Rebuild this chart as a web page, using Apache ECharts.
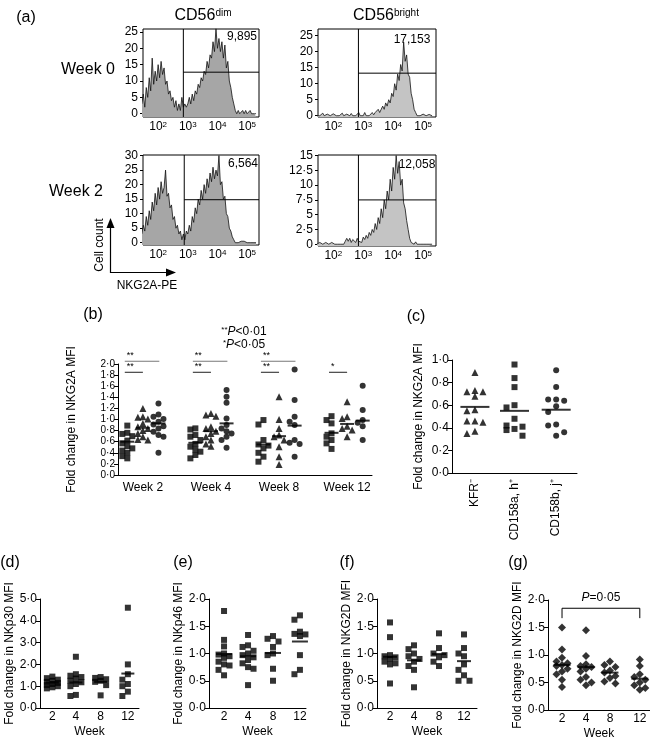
<!DOCTYPE html>
<html><head><meta charset="utf-8">
<script src="https://cdn.jsdelivr.net/npm/echarts@6/dist/echarts.min.js"></script>
<style>html,body{margin:0;padding:0;background:#fff}#c{width:650px;height:742px}</style>
</head><body><div id="c"></div><script>
// ================= DATA =================
// (a) flow histograms: counts per log10 bin, bins start at 10^1.45, step 0.05 decades
const histStart = 1.45, histStep = 0.05;
const cd56dimWeek0 = [
 3, 6, 2, 8, 5, 11, 7, 17, 9, 13,
 10, 15, 11, 16, 12, 14, 9, 10, 6, 7,
 4, 5, 2, 4, 1, 3, 1, 5, 2, 3,
 2, 3, 5, 3, 6, 4, 7, 6, 9, 8,
 11, 10, 13, 12, 16, 14, 18, 17, 22, 19,
 26, 20, 23, 19, 22, 17, 21, 14, 16, 10,
 8, 5, 3, 1, 0, 1, 0, 0, 1, 0,
 1, 0, 0, 1, 0, 0, 0, 0];
const cd56brightWeek0 = [
 0, 0.5, 0, 0, 0.8, 0, 0, 0.5, 0, 0,
 0, 0.6, 0, 0, 0.4, 0, 0, 0.8, 0, 0,
 0.5, 0, 0, 0.7, 0, 0.4, 0, 0, 1, 0,
 0.5, 0, 1, 0, 0.6, 0, 0.5, 1, 0.3, 1,
 0.5, 2, 1, 1.5, 3, 2, 4, 3, 5, 4,
 7, 6, 10, 8, 13, 11, 16, 14, 23, 17,
 19, 13, 12, 7, 5, 2, 1, 0, 0.6, 0,
 0, 0.5, 0, 0, 0, 0.4, 0, 0];
const cd56dimWeek2 = [
 3, 6, 4, 9, 6, 11, 8, 14, 11, 17,
 13, 19, 15, 21, 17, 19, 25, 16, 17, 12,
 13, 8, 9, 5, 6, 3, 4, 1, 3, 1,
 4, 3, 6, 4, 9, 7, 12, 10, 15, 13,
 18, 15, 20, 17, 22, 19, 24, 21, 26, 22,
 25, 23, 30, 20, 21, 15, 16, 10, 9, 5,
 4, 2, 1, 0, 0.5, 0, 0, 0.5, 0, 0.5,
 0, 0, 0.5, 0, 0, 0, 0, 0];
const cd56brightWeek2 = [
 0, 0, 0.3, 0, 0, 0, 0.3, 0, 0, 0,
 0.3, 0, 0, 0, 0, 0.3, 0, 0, 0, 0.5,
 1, 0.5, 1, 0.3, 0.8, 0.5, 0.3, 1, 0.5, 0.8,
 0.3, 1.2, 0.8, 1.5, 1, 2, 1.5, 2.5, 2, 3.5,
 2.5, 4.5, 3.5, 6, 4.5, 7.5, 6, 9, 7.5, 11,
 9, 13, 11, 15, 12, 14, 10, 11, 7, 6,
 4, 2.5, 1, 0.3, 0, 0, 0.4, 0, 0, 0,
 0, 0, 0.3, 0, 0, 0, 0, 0];
const histMFI = ['9,895', '17,153', '6,564', '12,058'];
const gateX = [2.85, 2.84, 2.88, 2.84];       // log10 position of vertical gate
const gateY = [12.7, 13.3, 14.8, 7.5];        // count level of horizontal gate
const logExponents = [2, 3, 4, 5];
const histTicksW0 = [0, 5, 10, 15, 20, 25];
const histTicksDimW2 = [0, 5, 10, 15, 20, 25, 30];
const histTicksBrightW2 = [0, 2.5, 5, 7.5, 10, 12.5, 15];

// (b) NKG2A fold change, CD56dim subsets per week
const bWeeks = ['Week 2', 'Week 4', 'Week 8', 'Week 12'];
const bYTicks = [0, 0.2, 0.4, 0.6, 0.8, 1.0, 1.2, 1.4, 1.6, 1.8, 2.0];
const bSquares = [
 [0.89, 0.76, 0.74, 0.70, 0.62, 0.57, 0.52, 0.48, 0.44, 0.40, 0.34, 0.30],
 [0.84, 0.82, 0.72, 0.69, 0.63, 0.56, 0.51, 0.46, 0.42, 0.36, 0.30],
 [0.99, 0.91, 0.63, 0.55, 0.53, 0.48, 0.40, 0.33, 0.24],
 [1.06, 0.99, 0.93, 0.75, 0.69, 0.63, 0.57, 0.47]];
const bTriangles = [
 [1.20, 1.05, 1.04, 1.01, 0.93, 0.87, 0.84, 0.80, 0.75, 0.69, 0.64, 0.63],
 [1.11, 1.08, 1.06, 0.87, 0.84, 0.79, 0.75, 0.69, 0.63, 0.56, 0.52],
 [1.41, 1.00, 0.84, 0.72, 0.69, 0.63, 0.51, 0.33, 0.19],
 [1.32, 1.05, 1.02, 0.88, 0.84, 0.81, 0.69]];
const bCircles = [
 [1.29, 1.09, 1.05, 1.01, 0.96, 0.91, 0.88, 0.84, 0.78, 0.72, 0.69, 0.40],
 [1.53, 1.41, 1.30, 1.02, 0.90, 0.84, 0.79, 0.75, 0.69, 0.63, 0.49],
 [1.90, 1.35, 1.05, 0.96, 0.90, 0.63, 0.58, 0.56, 0.33],
 [1.61, 1.17, 0.99, 0.94, 0.88, 0.63]];
const bSquareMeans = [0.60, 0.58, 0.55, 0.76];
const bTriangleMeans = [0.85, 0.79, 0.70, 0.92];
const bCircleMeans = [0.93, 0.93, 0.89, 0.98];
const bSigLong = ['**', '**', '**', ''];     // squares vs circles
const bSigShort = ['**', '**', '**', '*'];   // squares vs triangles

// (c) NKG2A fold change by KIR phenotype
const cCategories = ['KFR\u207B', 'CD158a, h\u207A', 'CD158b, j\u207A'];
const cKFR = [0.89, 0.73, 0.72, 0.72, 0.68, 0.56, 0.55, 0.46, 0.46, 0.45, 0.37, 0.35];
const cCD158a = [0.96, 0.84, 0.76, 0.60, 0.58, 0.48, 0.42, 0.41, 0.39, 0.38, 0.33];
const cCD158b = [0.91, 0.76, 0.65, 0.65, 0.64, 0.59, 0.54, 0.43, 0.42, 0.36, 0.33];
const cMeans = [0.585, 0.55, 0.56];

// (d)-(g) fold change by week
const weekTicks = ['2', '4', '8', '12'];
const dNKp30 = [
 [1.44, 1.37, 1.30, 1.25, 1.20, 1.15, 1.10, 1.05, 1.00, 0.95, 0.90],
 [2.35, 1.55, 1.48, 1.42, 1.35, 1.25, 1.18, 1.10, 1.00, 0.60, 0.55],
 [1.42, 1.38, 1.32, 1.25, 1.20, 1.05, 0.58],
 [4.60, 2.00, 1.55, 1.30, 1.10, 1.00, 0.75, 0.55]];
const dMeans = [1.17, 1.17, 1.20, 1.58];
const eNKp46 = [
 [1.78, 1.25, 1.13, 1.00, 0.98, 0.95, 0.92, 0.85, 0.80, 0.78, 0.70, 0.60],
 [1.34, 1.15, 1.12, 1.05, 1.00, 0.97, 0.93, 0.88, 0.82, 0.75, 0.72, 0.42],
 [1.32, 1.27, 1.22, 1.12, 1.00, 0.97, 0.72, 0.50],
 [1.70, 1.62, 1.40, 1.36, 1.35, 1.32, 0.97, 0.70, 0.62]];
const eMeans = [0.99, 0.95, 1.01, 1.22];
const fNKG2D = [
 [1.57, 1.30, 0.97, 0.95, 0.93, 0.90, 0.85, 0.82, 0.80, 0.45],
 [1.15, 1.08, 1.00, 0.95, 0.90, 0.85, 0.77, 0.70, 0.38],
 [1.37, 1.10, 1.00, 0.97, 0.93, 0.85, 0.77],
 [1.35, 1.10, 1.00, 0.95, 0.80, 0.70, 0.60, 0.50, 0.50]];
const fMeans = [0.94, 0.875, 0.99, 0.86];
const gNKG2D = [
 [1.50, 1.10, 0.95, 0.88, 0.85, 0.82, 0.80, 0.75, 0.70, 0.65, 0.55, 0.42],
 [1.45, 0.98, 0.83, 0.80, 0.78, 0.75, 0.70, 0.60, 0.55, 0.50, 0.45],
 [0.88, 0.82, 0.78, 0.72, 0.68, 0.62, 0.58, 0.52, 0.48],
 [0.92, 0.80, 0.65, 0.60, 0.55, 0.50, 0.45, 0.40, 0.37]];
const gMeans = [0.82, 0.78, 0.68, 0.57];
const gPText = '=0\u00b705';

// ================= LAYOUT / HELPERS =================
const FONT = '"Liberation Sans", Arial, Helvetica, sans-serif';
const fmtDot = v => (Math.round(v * 10) / 10).toFixed(1).replace('.', '\u00b7');
const fmtHist = v => String(v).replace('.', '\u00b7');
const nearestIdx = (arr, v) => { let b = 0; arr.forEach((a, i) => { if (Math.abs(a - v) < Math.abs(arr[b] - v)) b = i; }); return b; };

// place points of one column in 3 lanes (centre, left, right) to limit overlap
function swarm(vals, pxY, step) {
  const order = vals.map((v, i) => i).sort((a, b) => vals[b] - vals[a]);
  const placed = [], off = vals.map(() => 0);
  const cands = [0, -1, 1];
  order.forEach(i => {
    const y = vals[i] * pxY;
    let best = 0, bestD = -1;
    for (const c of cands) {
      const x = c * step;
      let dmin = Infinity;
      placed.forEach(p => { dmin = Math.min(dmin, Math.hypot(p.x - x, p.y - y)); });
      if (dmin >= step * 1.05) { best = x; bestD = Infinity; break; }
      if (dmin > bestD) { bestD = dmin; best = x; }
    }
    off[i] = best; placed.push({ x: best, y });
  });
  return off;
}

const grids = [], xAxis = [], yAxis = [], series = [], graphic = [];

function txt(x, y, text, size, style, el) {
  return Object.assign({ type: 'text', x: x, y: y, silent: true, z: 100,
    style: Object.assign({ text: text, fill: '#000', font: size + 'px ' + FONT, textAlign: 'center', textVerticalAlign: 'middle', align: 'center', verticalAlign: 'middle' }, style || {}) }, el || {});
}

// ---- (a) histograms ----
const hists = [
  { data: cd56dimWeek0, box: [143, 29, 116, 88], xr: [1.49, 5.40], yr: [-1, 25.9], ticks: histTicksW0, fill: '#a6a6a6', note: [242, 37] },
  { data: cd56brightWeek0, box: [318, 29, 118, 88], xr: [1.49, 5.43], yr: [-0.4, 27.1], ticks: histTicksW0, fill: '#c4c4c4', note: [412, 40] },
  { data: cd56dimWeek2, box: [143, 155, 116, 90], xr: [1.49, 5.40], yr: [-0.8, 30.2], ticks: histTicksDimW2, fill: '#a6a6a6', note: [243, 164] },
  { data: cd56brightWeek2, box: [318, 155, 118, 91], xr: [1.49, 5.43], yr: [-0.3, 15.1], ticks: histTicksBrightW2, fill: '#c4c4c4', note: [417, 165] }
];
hists.forEach((h, i) => {
  grids.push({ left: h.box[0], top: h.box[1], width: h.box[2], height: h.box[3], show: true, borderColor: '#000', borderWidth: 1, backgroundColor: 'transparent' });
  const gi = grids.length - 1;
  xAxis.push({ gridIndex: gi, type: 'value', min: h.xr[0], max: h.xr[1],
    axisLine: { show: false }, axisTick: { show: false }, splitLine: { show: false },
    axisLabel: { customValues: logExponents, margin: 4, formatter: v => '{b|10}{s|' + Math.round(v) + '}',
      rich: { b: { fontSize: 12, color: '#000', fontFamily: FONT }, s: { fontSize: 8, color: '#000', fontFamily: FONT, verticalAlign: 'top' } } } });
  yAxis.push({ gridIndex: gi, type: 'value', min: h.yr[0], max: h.yr[1],
    axisLine: { show: false }, splitLine: { show: false },
    axisTick: { show: true, customValues: h.ticks, length: 3, lineStyle: { color: '#000' } },
    axisLabel: { customValues: h.ticks, formatter: fmtHist, fontSize: 12, color: '#000', fontFamily: FONT, margin: 5 } });
  series.push({ type: 'line', xAxisIndex: gi, yAxisIndex: gi, symbol: 'none', showSymbol: false,
    data: h.data.map((v, k) => [histStart + k * histStep, v]),
    lineStyle: { color: '#111', width: 0.8 }, areaStyle: { color: h.fill, opacity: 1, origin: 'start' }, z: 2 });
  series.push({ type: 'custom', xAxisIndex: gi, yAxisIndex: gi, z: 3, data: [[gateX[i], gateY[i]]],
    renderItem: (params, api) => {
      const cs = params.coordSys; const p = api.coord([api.value(0), api.value(1)]);
      return { type: 'group', children: [
        { type: 'line', shape: { x1: p[0], y1: cs.y, x2: p[0], y2: cs.y + cs.height }, style: { stroke: '#000', lineWidth: 1 } },
        { type: 'line', shape: { x1: p[0], y1: p[1], x2: cs.x + cs.width, y2: p[1] }, style: { stroke: '#000', lineWidth: 1 } }
      ] };
    } });
  graphic.push(txt(h.note[0], h.note[1], histMFI[i], 12));
});

// ---- generic dot-plot panel ----
function addPanel(p) {
  grids.push({ left: p.box[0], top: p.box[1], width: p.box[2], height: p.box[3] });
  const gi = grids.length - 1;
  const pxX = p.box[2] / (p.xr[1] - p.xr[0]), pxY = p.box[3] / (p.yr[1] - p.yr[0]);
  xAxis.push({ gridIndex: gi, type: 'value', min: p.xr[0], max: p.xr[1],
    axisLine: { onZero: false, lineStyle: { color: '#000', width: 1 } }, axisTick: { show: false }, splitLine: { show: false },
    axisLabel: { customValues: p.xTicks, formatter: v => p.xLabels[nearestIdx(p.xTicks, v)], color: '#000', fontFamily: FONT,
      fontSize: p.xFont || 12, rotate: p.rotate || 0, margin: p.xMargin },
    name: p.xName || '', nameLocation: 'middle', nameGap: p.xNameGap || 18, nameTextStyle: { color: '#000', fontFamily: FONT, fontSize: 12 } });
  const yLab = { formatter: fmtDot, color: '#000', fontFamily: FONT, fontSize: p.yFont || 12, margin: 3, showMinLabel: true, showMaxLabel: true, hideOverlap: false };
  const yTick = { show: true, length: 4, lineStyle: { color: '#000' } };
  if (p.yTicks) { yLab.customValues = p.yTicks; yTick.customValues = p.yTicks; }
  yAxis.push({ gridIndex: gi, type: 'value', min: p.yr[0], max: p.yr[1], interval: p.yr[2],
    axisLine: { show: true, onZero: false, lineStyle: { color: '#000', width: 1 } },
    axisTick: yTick, splitLine: { show: false }, axisLabel: yLab,
    name: p.yName, nameLocation: 'middle', nameGap: p.yNameGap, nameTextStyle: { color: '#000', fontFamily: FONT, fontSize: 12 } });
  p.columns.forEach(c => {
    const off = swarm(c.vals, pxY, p.step);
    series.push({ type: 'scatter', xAxisIndex: gi, yAxisIndex: gi, symbol: c.symbol, symbolSize: c.size,
      itemStyle: { color: '#000' }, data: c.vals.map((v, k) => [c.x + off[k] / pxX, v]), z: 2 });
  });
  series.push({ type: 'scatter', xAxisIndex: gi, yAxisIndex: gi, symbol: 'rect', symbolSize: [p.meanW, 2],
    itemStyle: { color: '#000' }, data: p.means.map(m => [m.x, m.v]), z: 3 });
  return gi;
}

// ---- (b) ----
const colX = (g, s) => 0.55 + 4.02 * g + 0.92 * s;
const bSets = [bSquares, bTriangles, bCircles], bMeanSets = [bSquareMeans, bTriangleMeans, bCircleMeans];
const bSyms = [['rect', 6], ['triangle', 7], ['circle', 6]];
const bCols = [], bMeans = [];
for (let g = 0; g < 4; g++) for (let s = 0; s < 3; s++) {
  bCols.push({ x: colX(g, s), vals: bSets[s][g], symbol: bSyms[s][0], size: bSyms[s][1] });
  bMeans.push({ x: colX(g, s), v: bMeanSets[s][g] });
}
const gB = addPanel({ box: [118, 364, 254, 111], xr: [0, 15], yr: [0, 2, 0.2], yTicks: bYTicks, xTicks: [0, 1, 2, 3].map(g => colX(g, 1)), xLabels: bWeeks,
  xMargin: 7, yFont: 10, yName: 'Fold change in NKG2A MFI', yNameGap: 40, columns: bCols, means: bMeans, meanW: 14, step: 5 });
const bSig = [];
for (let g = 0; g < 4; g++) {
  if (bSigLong[g]) bSig.push([colX(g, 0) - 0.15, colX(g, 2) + 0.05, 2.05, bSigLong[g], 0]);
  if (bSigShort[g]) bSig.push([colX(g, 0) - 0.15, colX(g, 1), 1.85, bSigShort[g], 1]);
}
series.push({ type: 'custom', xAxisIndex: gB, yAxisIndex: gB, z: 4, data: bSig,
  renderItem: (params, api) => {
    const a = api.coord([api.value(0), api.value(2)]), b = api.coord([api.value(1), api.value(2)]);
    const d = bSig[params.dataIndex];
    return { type: 'group', children: [
      { type: 'line', shape: { x1: a[0], y1: a[1], x2: b[0], y2: b[1] }, style: { stroke: d[4] ? '#444' : '#777', lineWidth: 1.2 } },
      { type: 'text', x: a[0] + 2, y: a[1] - 1, style: { text: d[3], fill: '#000', font: '9px ' + FONT, textAlign: 'left', textVerticalAlign: 'bottom', align: 'left', verticalAlign: 'bottom' } }
    ] };
  } });

// ---- (c) ----
const cX = [0.55, 1.5, 2.5];
addPanel({ box: [452, 360, 125, 113], xr: [0, 3], yr: [0, 1, 0.2], xTicks: cX, xLabels: cCategories, rotate: 90, xMargin: 6,
  yName: 'Fold change in NKG2A MFI', yNameGap: 27,
  columns: [{ x: cX[0], vals: cKFR, symbol: 'triangle', size: 7 }, { x: cX[1], vals: cCD158a, symbol: 'rect', size: 6 }, { x: cX[2], vals: cCD158b, symbol: 'circle', size: 6 }],
  means: cMeans.map((v, i) => ({ x: cX[i], v })), meanW: 29, step: 8 });

// ---- (d)-(g) ----
function weekPanel(box, yr, pos, sets, means, sym, size, meanW, yName, gap) {
  return addPanel({ box, xr: [0, 4], yr, xTicks: pos, xLabels: weekTicks, xMargin: 3, xName: 'Week', xNameGap: 18,
    yName, yNameGap: gap, columns: sets.map((v, i) => ({ x: pos[i], vals: v, symbol: sym, size })),
    means: means.map((v, i) => ({ x: pos[i], v })), meanW, step: 5.5 });
}
weekPanel([40, 599, 99, 109], [0, 5, 1], [0.5, 1.45, 2.45, 3.55], dNKp30, dMeans, 'rect', 6, 13, 'Fold change in NKp30 MFI', 24);
weekPanel([209, 599, 97, 109], [0, 2, 0.5], [0.62, 1.61, 2.64, 3.75], eNKp46, eMeans, 'rect', 6, 16, 'Fold change in NKp46 MFI', 24);
weekPanel([377, 599, 100, 109], [0, 2, 0.5], [0.52, 1.48, 2.48, 3.48], fNKG2D, fMeans, 'rect', 6, 14, 'Fold change in NKG2D MFI', 24);
const gPos = [0.55, 1.49, 2.43, 3.6];
const gG = weekPanel([548, 600, 102, 110], [0, 2, 0.5], gPos, gNKG2D, gMeans, 'diamond', 8, 17, 'Fold change in NKG2D MFI', 24);
series.push({ type: 'custom', xAxisIndex: gG, yAxisIndex: gG, z: 4, data: [[gPos[0], gPos[3], 1.85, 1.67]],
  renderItem: (params, api) => {
    const a = api.coord([api.value(0), api.value(2)]), b = api.coord([api.value(1), api.value(2)]);
    const a2 = api.coord([api.value(0), api.value(3)]), b2 = api.coord([api.value(1), api.value(3)]);
    return { type: 'group', children: [
      { type: 'polyline', shape: { points: [a2, a, b, b2] }, style: { stroke: '#000', fill: null, lineWidth: 1 } },
      { type: 'text', x: (a[0] + b[0]) / 2, y: a[1] - 11, style: { text: '{i|P}{n|' + gPText + '}', textAlign: 'center', textVerticalAlign: 'middle', align: 'center', verticalAlign: 'middle',
        rich: { i: { fontStyle: 'italic', fontSize: 12, fontFamily: FONT, fill: '#000', color: '#000' }, n: { fontSize: 12, fontFamily: FONT, fill: '#000', color: '#000' } } } }
    ] };
  } });

// ---- annotations ----
const supRich = (size) => ({ a: { fontSize: size, fontFamily: FONT, fill: '#000', color: '#000' }, s: { fontSize: Math.round(size * 0.65), fontFamily: FONT, fill: '#000', color: '#000', verticalAlign: 'top' } });
graphic.push(txt(26, 18, '(a)', 16));
graphic.push(txt(203, 16, '', 16, { text: '{a|CD56}{s|dim}', rich: supRich(16) }));
graphic.push(txt(386, 16, '', 16, { text: '{a|CD56}{s|bright}', rich: supRich(16) }));
graphic.push(txt(88, 70, 'Week 0', 16));
graphic.push(txt(76, 192, 'Week 2', 16));
graphic.push(txt(100, 245, 'Cell count', 12, null, { rotation: Math.PI / 2 }));
graphic.push(txt(147, 286, 'NKG2A-PE', 12));
graphic.push({ type: 'polyline', silent: true, shape: { points: [[110.5, 226], [110.5, 272.5], [168, 272.5]] }, style: { stroke: '#000', lineWidth: 1.2, fill: null } });
graphic.push({ type: 'polygon', silent: true, shape: { points: [[110.5, 218], [106.5, 228], [114.5, 228]] }, style: { fill: '#000' } });
graphic.push({ type: 'polygon', silent: true, shape: { points: [[176, 272.5], [166, 268.5], [166, 276.5]] }, style: { fill: '#000' } });
graphic.push(txt(93, 315, '(b)', 16));
graphic.push(txt(416, 317, '(c)', 16));
graphic.push(txt(10, 563, '(d)', 16));
graphic.push(txt(183, 563, '(e)', 16));
graphic.push(txt(347, 563, '(f)', 16));
graphic.push(txt(518, 563, '(g)', 16));
const pRich = { s: { fontSize: 8, fontFamily: FONT, fill: '#000', color: '#000', verticalAlign: 'top' }, i: { fontSize: 12, fontStyle: 'italic', fontFamily: FONT, fill: '#000', color: '#000' }, n: { fontSize: 12, fontFamily: FONT, fill: '#000', color: '#000' } };
graphic.push(txt(244, 332, '', 12, { text: '{s|**}{i|P}{n|<0\u00b701}', rich: pRich }));
graphic.push(txt(244, 345, '', 12, { text: '{s|*}{i|P}{n|<0\u00b705}', rich: pRich }));

const chart = echarts.init(document.getElementById('c'), null, { renderer: 'canvas' });
chart.setOption({
  animation: false,
  backgroundColor: '#fff',
  textStyle: { fontFamily: FONT, color: '#000' },
  grid: grids, xAxis: xAxis, yAxis: yAxis, series: series, graphic: graphic
});
</script></body></html>
